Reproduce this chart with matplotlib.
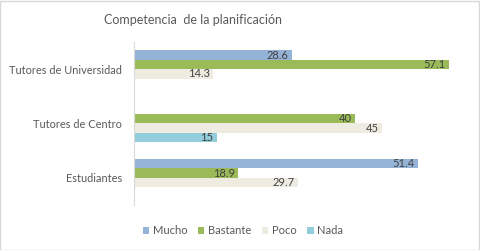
import numpy as np
import matplotlib.pyplot as plt
from matplotlib.patches import Rectangle

categories = ['Estudiantes', 'Tutores de Centro', 'Tutores de Universidad']
series = ['Mucho', 'Bastante', 'Poco', 'Nada']
mucho = [51.4, 0, 28.6]
bastante = [18.9, 40, 57.1]
poco = [29.7, 45, 14.3]
nada = [0, 15, 0]
colors = ['#95B3D7', '#9BBB59', '#EEECE1', '#92CDDC']

plt.rcParams['font.family'] = ['Lato', 'DejaVu Sans']

fig = plt.figure(figsize=(4.8, 2.5), dpi=100)
ax = fig.add_axes([134 / 480, 1 - 205 / 250, (465 - 134) / 480, 163 / 250])

y = np.arange(len(categories))
h = 0.172
offsets = [1.5 * h, 0.5 * h, -0.5 * h, -1.5 * h]

for vals, name, col, off in zip([mucho, bastante, poco, nada], series, colors, offsets):
    bars = ax.barh(y + off, vals, height=h, color=col, label=name)
    for b, v in zip(bars, vals):
        if v == 0:
            continue
        ax.text(b.get_width() - 0.6, b.get_y() + h / 2, f'{v:g}',
                ha='right', va='center', fontsize=8, color='#404040')

ax.set_xlim(0, 60)
ax.set_ylim(-0.5, 2.5)
ax.set_yticks(y)
ax.set_yticklabels(categories, fontsize=7.9, color='#595959')
ax.tick_params(axis='y', length=0, pad=8.5)
ax.set_xticks([])
for s in ['top', 'right', 'bottom']:
    ax.spines[s].set_visible(False)
ax.spines['left'].set_color('#d9d9d9')

fig.text(193 / 480, 1 - 20 / 250, 'Competencia  de la planificación', ha='center', va='center',
         fontsize=9, color='#595959')

handles, labels = ax.get_legend_handles_labels()
fig.legend(handles, labels, loc='center', bbox_to_anchor=(243 / 480, 1 - 231 / 250), ncol=4,
           frameon=False, fontsize=8, handlelength=0.55, handleheight=0.55,
           handletextpad=0.3, columnspacing=1.0, labelcolor='#595959')

fig.patches.append(Rectangle((0.001, 0.002), 0.997, 0.995, transform=fig.transFigure,
                             fill=False, edgecolor='#d9d9d9', linewidth=1))

fig.savefig('out.png', dpi=100)
